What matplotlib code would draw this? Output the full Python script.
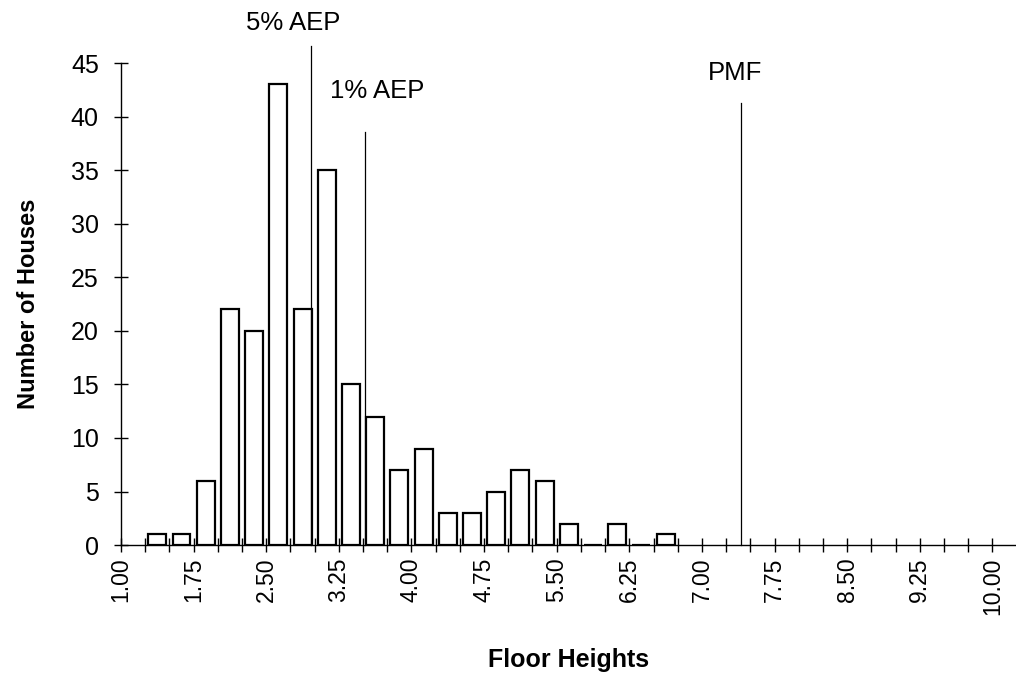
import numpy as np
import matplotlib
matplotlib.use("Agg")
import matplotlib.pyplot as plt

plt.rcParams['font.family'] = ['Liberation Sans', 'DejaVu Sans']

# Floor-height bins (lower edges, 0.25 m wide) and house counts
bin_edges = [1.25, 1.50, 1.75, 2.00, 2.25, 2.50, 2.75, 3.00, 3.25, 3.50,
             3.75, 4.00, 4.25, 4.50, 4.75, 5.00, 5.25, 5.50, 5.75, 6.00,
             6.25, 6.50]
house_counts = [1, 1, 6, 22, 20, 43, 22, 35, 15, 12,
                7, 9, 3, 3, 5, 7, 6, 2, 0, 2,
                0, 1]

# Flood levels marked on the chart
level_names = ["5% AEP", "1% AEP", "PMF"]
level_values = [2.96, 3.52, 7.40]
level_line_tops = [46.6, 38.6, 41.3]
level_label_pos = [(2.78, 48.7), (3.65, 42.4), (7.34, 44.1)]

bin_width = 0.25
x_min, x_max = 1.0, 10.25
label_step = 0.75

fig = plt.figure(figsize=(10.16, 6.78), dpi=100)
ax = fig.add_axes([0.1191, 0.196, 0.8815, 0.711])

centers = np.array(bin_edges) + bin_width / 2
ax.bar(centers, house_counts, width=0.185, facecolor="white",
       edgecolor="black", linewidth=1.6, zorder=3)

for name, val, top, (lx, ly) in zip(level_names, level_values,
                                    level_line_tops, level_label_pos):
    ax.plot([val, val], [0, top], color="black", linewidth=0.9,
            clip_on=False, zorder=4)
    ax.text(lx, ly, name, ha="center", va="center", fontsize=18.5,
            clip_on=False)

major = np.arange(1.0, 10.0 + 0.001, label_step)
ax.set_xlim(x_min, x_max)
ax.set_ylim(0, 45)
ax.set_yticks(np.arange(0, 46, 5))
ax.set_xticks(major)
ax.set_xticks(np.arange(x_min, x_max + 0.001, bin_width), minor=True)
ax.set_xticklabels([f"{v:.2f}" for v in major], rotation=90)

for side in ("top", "right"):
    ax.spines[side].set_visible(False)
for side in ("left", "bottom"):
    ax.spines[side].set_linewidth(1.0)

ax.tick_params(axis="both", which="both", direction="inout", length=10,
               width=1.0)
ax.tick_params(axis="x", which="major", labelsize=16.5, pad=4)
ax.tick_params(axis="y", which="major", labelsize=18, pad=11)

ax.set_ylabel("Number of Houses", fontsize=17, fontweight="bold", labelpad=22)
ax.set_xlabel("Floor Heights", fontsize=18, fontweight="bold", labelpad=24)

fig.savefig("out.png", dpi=100, facecolor="white")
